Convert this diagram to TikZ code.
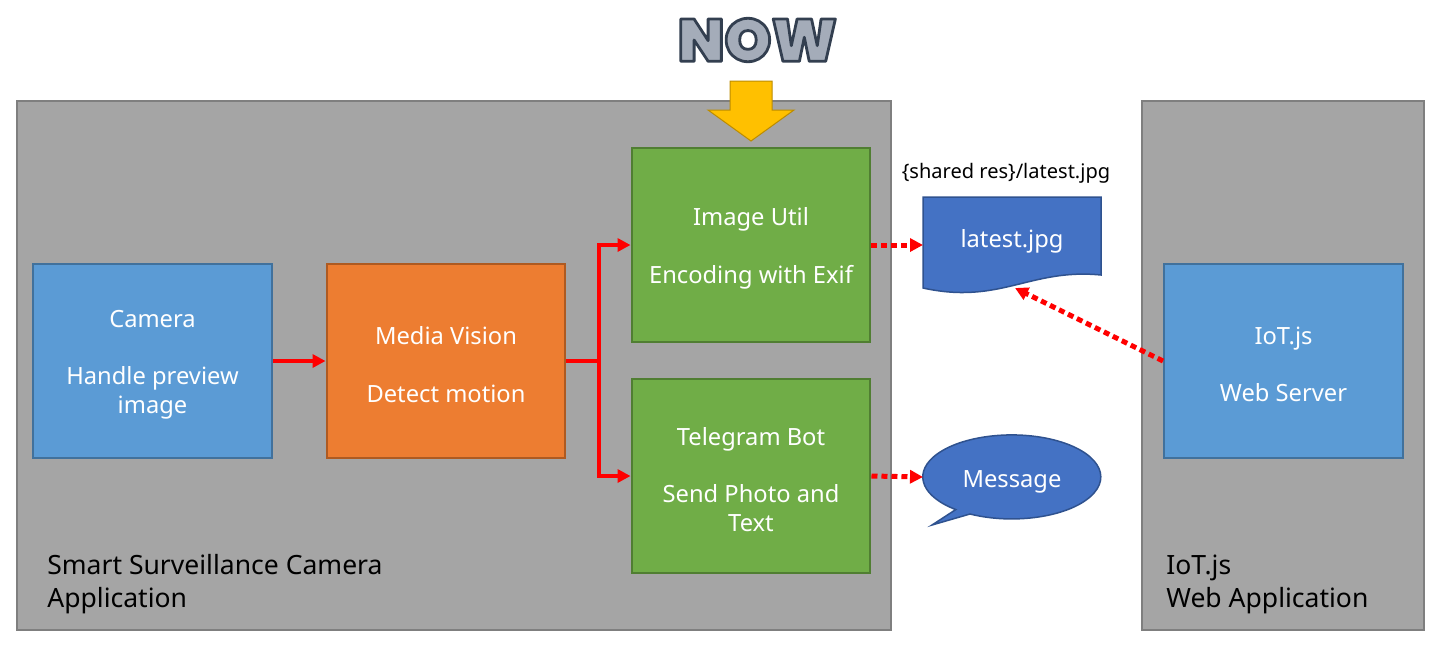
\documentclass[tikz,border=0pt]{standalone}
\usepackage{fontspec}
\setmainfont{Noto Sans}
\newfontfamily\nowfont{Poppins Black}
\usetikzlibrary{arrows.meta}
\definecolor{gfill}{HTML}{A5A5A5}
\definecolor{gborder}{HTML}{7F7F7F}
\definecolor{bfill}{HTML}{5B9BD5}
\definecolor{bborder}{HTML}{41719C}
\definecolor{ofill}{HTML}{ED7D31}
\definecolor{oborder}{HTML}{AE5A21}
\definecolor{grfill}{HTML}{70AD47}
\definecolor{grborder}{HTML}{507E32}
\definecolor{dfill}{HTML}{4472C4}
\definecolor{dborder}{HTML}{2F528F}
\definecolor{yfill}{HTML}{FFC000}
\definecolor{yborder}{HTML}{BC8C00}
\definecolor{nowfill}{HTML}{A4ACB9}
\newcommand{\outlinedtext}[1]{\special{pdf:literal 2 Tr 1.6 w 1 j 0.2 0.247 0.314 RG}#1\special{pdf:literal 0 Tr}}
\tikzset{
  outerbox/.style={draw=gborder, fill=gfill, line width=0.04cm, inner sep=0},
  procbox/.style={line width=0.04cm, minimum width=4.78cm, minimum height=3.88cm, inner sep=0},
  boxtext/.style={text=white, align=center, inner sep=0, yshift=-0.07cm, font=\fontsize{13.5pt}{16.4pt}\selectfont},
  bluebox/.style={procbox, draw=bborder, fill=bfill},
  orangebox/.style={procbox, draw=oborder, fill=ofill},
  greenbox/.style={procbox, draw=grborder, fill=grfill},
  biglabel/.style={anchor=west, align=left, inner sep=0, font=\fontsize{15.1pt}{18.7pt}\selectfont},
  redsolid/.style={draw=red, line width=0.08cm, line join=miter, -{Triangle[length=0.26cm, width=0.26cm]}},
  reddot/.style={draw=red, line width=0.1cm, dash pattern=on 0.12cm off 0.08cm, -{Triangle[length=0.26cm, width=0.26cm]}},
}
\begin{document}
\begin{tikzpicture}[x=0.02cm,y=-0.02cm]
\useasboundingbox (0,0) rectangle (1440,664);
% outer application boxes
\node[outerbox, minimum width=17.48cm, minimum height=10.58cm] (app) at (454,365.5) {};
\node[outerbox, minimum width=5.64cm, minimum height=10.58cm] (web) at (1283,365.5) {};
\node[biglabel] (applabel) at (47,584.5) {Smart Surveillance Camera\\Application};
\node[biglabel] (weblabel) at (1166,584.5) {IoT.js\\Web Application};
% process boxes
\node[bluebox] (cam) at (152.5,361) {};
\node[boxtext] (camt) at (cam) {Camera\\[16.4pt]Handle preview\\image};
\node[orangebox] (mv) at (446,361) {};
\node[boxtext] (mvt) at (mv) {Media Vision\\[16.4pt]Detect motion};
\node[greenbox] (iu) at (751,245) {};
\node[boxtext] (iut) at (iu) {Image Util\\[16.4pt]Encoding with Exif};
\node[greenbox] (tg) at (751,476) {};
\node[boxtext] (tgt) at (tg) {Telegram Bot\\[16.4pt]Send Photo and\\Text};
\node[bluebox] (iot) at (1283.5,361) {};
\node[boxtext] (iott) at (iot) {IoT.js\\[16.4pt]Web Server};
% NOW and yellow arrow
\node[font=\fontsize{34pt}{38pt}\selectfont\nowfont, text=nowfill, inner sep=0] (now) at (757.5,40) {\outlinedtext{NOW}};
\draw[fill=yfill, draw=yborder, line width=0.02cm, line join=miter]
  (730,81) -- (772,81) -- (772,110) -- (794,110) -- (751,141) -- (708,110) -- (730,110) -- cycle;
% document shape
\draw[fill=dfill, draw=dborder, line width=0.03cm]
  (923,197) -- (1101,197) -- (1101,275) .. controls (1030,268) and (1000,305) .. (923,288) -- cycle;
\node[boxtext] (doc) at (1012,238) {latest.jpg};
\node[font=\fontsize{11.4pt}{13pt}\selectfont, inner sep=0, yshift=-0.04cm] (shared) at (1006,171) {\{shared res\}/latest.jpg};
\coordinate (docL) at (923,245);
\coordinate (docB) at (1015,288);
% message callout
\draw[fill=dfill, draw=dborder, line width=0.03cm]
  (970,514) arc[start angle=118, end angle=-231, x radius=89, y radius=42] -- (932,525) -- cycle;
\node[boxtext] (msg) at (1012,478) {Message};
\coordinate (msgL) at (923,477);
% connectors
\coordinate (sp) at (599,361);
\draw[redsolid] (cam.east) -- (mv.west);
\draw[redsolid] (mv.east) -- (sp) |- (iu.west);
\draw[redsolid] (mv.east) -- (sp) |- (tg.west);
\draw[reddot] (iu.east) -- (docL);
\draw[reddot] (tg.east) -- (msgL);
\draw[reddot] (iot.west) -- (docB);
\end{tikzpicture}
\end{document}
